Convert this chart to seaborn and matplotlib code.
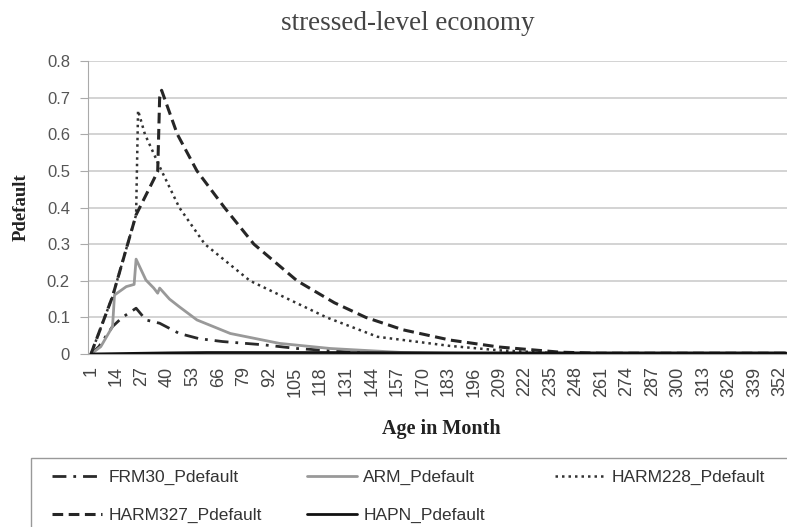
import matplotlib
matplotlib.use("Agg")
import matplotlib.pyplot as plt
from matplotlib.patches import Rectangle
import seaborn as sns
import pandas as pd
import numpy as np

# ---- data (key points) ----
frm30_month = [1, 5, 12, 17, 24, 29, 36, 46, 56, 68, 89, 106, 131, 160, 200, 355]
frm30_val = [0, 0.02, 0.075, 0.10, 0.125, 0.093, 0.084, 0.056, 0.042, 0.034, 0.025, 0.015, 0.006, 0.002, 0.001, 0.001]

arm_month = [1, 6, 12, 13, 19, 23, 24, 29, 33, 35, 36, 41, 46, 55, 72, 97, 123, 160, 200, 355]
arm_val = [0, 0.02, 0.075, 0.161, 0.184, 0.19, 0.259, 0.202, 0.18, 0.166, 0.18, 0.15, 0.129, 0.093, 0.056, 0.029, 0.015, 0.004, 0.001, 0.001]

harm228_month = [1, 12, 24, 25, 28.5, 37, 46, 59, 82, 121, 147, 184, 209, 235, 260, 355]
harm228_val = [0, 0.157, 0.38, 0.665, 0.60, 0.50, 0.40, 0.30, 0.20, 0.10, 0.047, 0.022, 0.01, 0.003, 0.001, 0.001]

harm327_month = [1, 12, 24, 35, 36, 37, 45, 55, 69, 84, 106, 125, 141, 160, 184, 209, 240, 260, 355]
harm327_val = [0, 0.157, 0.38, 0.498, 0.70, 0.72, 0.60, 0.50, 0.40, 0.30, 0.20, 0.14, 0.10, 0.066, 0.038, 0.019, 0.005, 0.002, 0.002]

hapn_month = [1, 40, 60, 120, 180, 260, 355]
hapn_val = [0, 0.003, 0.004, 0.004, 0.003, 0.003, 0.003]

tick_months = list(range(1, 353, 13))
y_ticks = [0, 0.1, 0.2, 0.3, 0.4, 0.5, 0.6, 0.7, 0.8]

series = [
    ("FRM30_Pdefault", frm30_month, frm30_val, "#2a2a2a", (0, (5, 2.5, 1, 2.5)), 2.0),
    ("ARM_Pdefault", arm_month, arm_val, "#999999", "-", 2.0),
    ("HARM228_Pdefault", harm228_month, harm228_val, "#333333", (0, (1, 1.6)), 1.8),
    ("HARM327_Pdefault", harm327_month, harm327_val, "#262626", (0, (3.5, 1.8)), 2.2),
    ("HAPN_Pdefault", hapn_month, hapn_val, "#111111", "-", 2.0),
]

sns.set_style("white")
W, H = 787, 527
fig = plt.figure(figsize=(W / 100, H / 100), dpi=100)
ax = fig.add_axes([88 / W, 1 - 354 / H, 1 - 88 / W, (354 - 61) / H])

handles = {}
for name, m, v, c, ls, lw in series:
    df = pd.DataFrame({"month": m, "value": v})
    sns.lineplot(data=df, x="month", y="value", ax=ax, color=c, linewidth=lw,
                 linestyle=ls, label=name, legend=False, zorder=3)
    handles[name] = ax.lines[-1]

ax.set_xlim(-0.5, 355.6)
ax.set_ylim(0, 0.8)
ax.set_yticks(y_ticks)
ax.set_yticklabels(["0" if t == 0 else f"{t:.1f}" for t in y_ticks],
                   fontfamily="Liberation Sans", fontsize=12, color="#555555")
ax.set_xticks(tick_months)
ax.set_xticklabels([str(t) for t in tick_months], rotation=90,
                   fontfamily="Liberation Sans", fontsize=13, color="#444444")
ax.set_xticks(np.arange(1, 356, 1), minor=True)
ax.tick_params(axis="x", which="both", length=5, color="#c0c0c0", width=0.8, pad=4)
ax.tick_params(axis="y", length=6, color="#aaaaaa", width=0.8, pad=7, left=True)

ax.grid(axis="y", color="#c8c8c8", linewidth=1.1, zorder=0)
ax.grid(axis="x", visible=False)
for s in ["top", "right"]:
    ax.spines[s].set_visible(False)
ax.spines["left"].set_color("#aaaaaa")
ax.spines["bottom"].set_color("#aaaaaa")

ax.set_xlabel("Age in Month", fontfamily="Liberation Serif", fontweight="bold",
              fontsize=14.5, color="#222222")
ax.xaxis.set_label_coords((441 - 88) / 699, (354 - 429) / 293)
ax.xaxis.label.set_va("center")
ax.set_ylabel("Pdefault", fontfamily="Liberation Serif", fontweight="bold",
              fontsize=13.5, color="#222222")
ax.yaxis.set_label_coords((21 - 88) / 699, 0.5)
ax.yaxis.label.set_va("center")

fig.text(407.5 / W, 1 - 23 / H, "stressed-level economy", ha="center", va="center",
         fontfamily="Liberation Serif", fontsize=19.5, color="#444444")

# legend frame
fig.patches.append(Rectangle((31 / W, -0.05), 1.0, (1 - 458 / H) + 0.05,
                             transform=fig.transFigure, fill=False,
                             edgecolor="#999999", linewidth=1.0, clip_on=False))

columns = [(52, ["FRM30_Pdefault", "HARM327_Pdefault"]),
           (307, ["ARM_Pdefault", "HAPN_Pdefault"]),
           (555, ["HARM228_Pdefault"])]
for x0, names in columns:
    leg = fig.legend([handles[n] for n in names], names, loc="upper left",
                     bbox_to_anchor=(x0 / W, 1 - 470 / H), frameon=False,
                     prop={"family": "Liberation Sans", "size": 12.5},
                     handlelength=2.9, handletextpad=0.35, labelspacing=1.3,
                     borderpad=0, borderaxespad=0)
    for t in leg.get_texts():
        t.set_color("#333333")

fig.savefig("out.png", dpi=100)
